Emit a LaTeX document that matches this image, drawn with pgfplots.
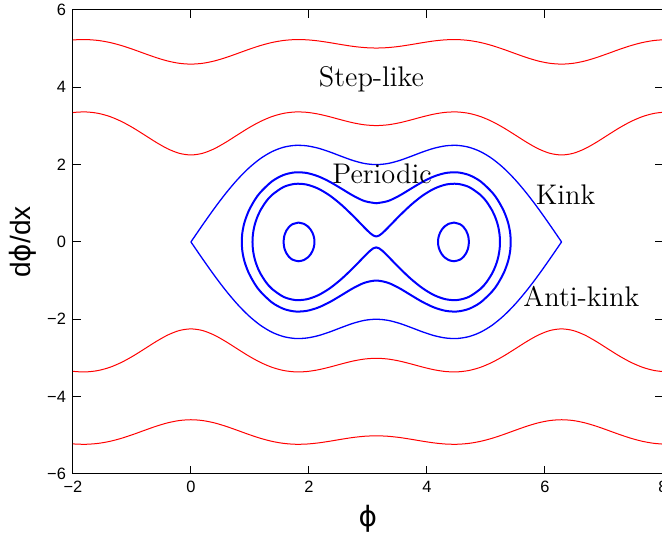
\documentclass[border=0pt]{standalone}
\usepackage{fontspec}
\newfontfamily\arialfont{Liberation Sans}
\newfontfamily\dejavufont{DejaVu Sans}
\usepackage{pgfplots}
\usepackage{pgfplotstable}
\pgfplotsset{compat=1.18}

\pgfplotstableread{
x r1 r1n r2 r2n
-2.1598 3.3074 -3.3074 5.1997 -5.1997
-1.9635 3.3529 -3.3529 5.2287 -5.2287
-1.7671 3.3616 -3.3616 5.2343 -5.2343
-1.5708 3.3260 -3.3260 5.2115 -5.2115
-1.3744 3.2435 -3.2435 5.1592 -5.1592
-1.1781 3.1163 -3.1163 5.0802 -5.0802
-0.9817 2.9524 -2.9524 4.9814 -4.9814
-0.7854 2.7656 -2.7656 4.8730 -4.8730
-0.5890 2.5757 -2.5757 4.7678 -4.7678
-0.3927 2.4084 -2.4084 4.6795 -4.6795
-0.1963 2.2920 -2.2920 4.6207 -4.6207
0.0000 2.2500 -2.2500 4.6000 -4.6000
0.1963 2.2920 -2.2920 4.6207 -4.6207
0.3927 2.4084 -2.4084 4.6795 -4.6795
0.5890 2.5757 -2.5757 4.7678 -4.7678
0.7854 2.7656 -2.7656 4.8730 -4.8730
0.9817 2.9524 -2.9524 4.9814 -4.9814
1.1781 3.1163 -3.1163 5.0802 -5.0802
1.3744 3.2435 -3.2435 5.1592 -5.1592
1.5708 3.3260 -3.3260 5.2115 -5.2115
1.7671 3.3616 -3.3616 5.2343 -5.2343
1.9635 3.3529 -3.3529 5.2287 -5.2287
2.1598 3.3074 -3.3074 5.1997 -5.1997
2.3562 3.2368 -3.2368 5.1550 -5.1550
2.5525 3.1560 -3.1560 5.1047 -5.1047
2.7489 3.0816 -3.0816 5.0590 -5.0590
2.9452 3.0292 -3.0292 5.0273 -5.0273
3.1416 3.0104 -3.0104 5.0160 -5.0160
3.3379 3.0292 -3.0292 5.0273 -5.0273
3.5343 3.0816 -3.0816 5.0590 -5.0590
3.7306 3.1560 -3.1560 5.1047 -5.1047
3.9270 3.2368 -3.2368 5.1550 -5.1550
4.1233 3.3074 -3.3074 5.1997 -5.1997
4.3197 3.3529 -3.3529 5.2287 -5.2287
4.5160 3.3616 -3.3616 5.2343 -5.2343
4.7124 3.3260 -3.3260 5.2115 -5.2115
4.9087 3.2435 -3.2435 5.1592 -5.1592
5.1051 3.1163 -3.1163 5.0802 -5.0802
5.3014 2.9524 -2.9524 4.9814 -4.9814
5.4978 2.7656 -2.7656 4.8730 -4.8730
5.6941 2.5757 -2.5757 4.7678 -4.7678
5.8905 2.4084 -2.4084 4.6795 -4.6795
6.0868 2.2920 -2.2920 4.6207 -4.6207
6.2832 2.2500 -2.2500 4.6000 -4.6000
6.4795 2.2920 -2.2920 4.6207 -4.6207
6.6759 2.4084 -2.4084 4.6795 -4.6795
6.8722 2.5757 -2.5757 4.7678 -4.7678
7.0686 2.7656 -2.7656 4.8730 -4.8730
7.2649 2.9524 -2.9524 4.9814 -4.9814
7.4613 3.1163 -3.1163 5.0802 -5.0802
7.6576 3.2435 -3.2435 5.1592 -5.1592
7.8540 3.3260 -3.3260 5.2115 -5.2115
8.0503 3.3616 -3.3616 5.2343 -5.2343
}\stepdata

\pgfplotstableread{
x s sn
0.0000 0.00000 0.00000
0.1963 0.43665 -0.43665
0.3927 0.85909 -0.85909
0.5890 1.25367 -1.25367
0.7854 1.60804 -1.60804
0.9817 1.91161 -1.91161
1.1781 2.15612 -2.15612
1.3744 2.33615 -2.33615
1.5708 2.44949 -2.44949
1.7671 2.49759 -2.49759
1.9635 2.48588 -2.48588
2.1598 2.42415 -2.42415
2.3562 2.32685 -2.32685
2.5525 2.21304 -2.21304
2.7489 2.10560 -2.10560
2.9452 2.02826 -2.02826
3.1416 2.00000 -2.00000
3.3379 2.02826 -2.02826
3.5343 2.10560 -2.10560
3.7306 2.21304 -2.21304
3.9270 2.32685 -2.32685
4.1233 2.42415 -2.42415
4.3197 2.48588 -2.48588
4.5160 2.49759 -2.49759
4.7124 2.44949 -2.44949
4.9087 2.33615 -2.33615
5.1051 2.15612 -2.15612
5.3014 1.91161 -1.91161
5.4978 1.60804 -1.60804
5.6941 1.25367 -1.25367
5.8905 0.85909 -0.85909
6.0868 0.43665 -0.43665
6.2832 0.00000 0.00000
}\kinkdata

\begin{document}
\begin{tikzpicture}
\begin{axis}[
  scale only axis,
  width=295pt, height=232pt,
  xmin=-2, xmax=8, ymin=-6, ymax=6,
  xtick={-2,0,2,4,6,8}, ytick={-6,-4,-2,0,2,4,6},
  xticklabels={−2,0,2,4,6,8},
  yticklabels={−6,−4,−2,0,2,4,6},
  tick align=inside,
  major tick length=4pt,
  tick style={black, line width=0.5pt},
  axis line style={line width=0.5pt},
  ticklabel style={font=\arialfont\fontsize{8.2}{10}\selectfont},
  xlabel={\dejavufont ϕ}, ylabel={\arialfont d{\dejavufont ϕ}/dx},
  label style={font=\arialfont\fontsize{14}{16}\selectfont},
  xlabel style={at={(axis description cs:0.5,0)}, anchor=center, yshift=-22.5pt},
  ylabel style={at={(axis description cs:-0.085,0.5)}, anchor=center},
]
% step-like (red)
\addplot[red, line width=0.5pt, smooth] table[x=x, y=r1] {\stepdata};
\addplot[red, line width=0.5pt, smooth] table[x=x, y=r1n] {\stepdata};
\addplot[red, line width=0.5pt, smooth] table[x=x, y=r2] {\stepdata};
\addplot[red, line width=0.5pt, smooth] table[x=x, y=r2n] {\stepdata};
% kink / anti-kink separatrix
\addplot[blue, line width=0.65pt, smooth] table[x=x, y=s] {\kinkdata};
\addplot[blue, line width=0.65pt, smooth] table[x=x, y=sn] {\kinkdata};
% periodic orbit (outer)
\addplot[blue, line width=1pt, smooth] coordinates {
(3.1416,1) (3.3379,1.05538) (3.5343,1.19731) (3.7306,1.37752) (3.9270,1.55377) (4.1233,1.69603) (4.3197,1.78314) (4.5160,1.79943) (4.7124,1.73205) (4.9087,1.56767) (5.1051,1.28407) (5.2032,1.08109) (5.3014,0.80884) (5.3632,0.56593) (5.3932,0.39565) (5.4132,0.2170) (5.4218,0)
(5.4132,-0.2170) (5.3932,-0.39565) (5.3632,-0.56593) (5.3014,-0.80884) (5.2032,-1.08109) (5.1051,-1.28407) (4.9087,-1.56767) (4.7124,-1.73205) (4.5160,-1.79943) (4.3197,-1.78314) (4.1233,-1.69603) (3.9270,-1.55377) (3.7306,-1.37752) (3.5343,-1.19731) (3.3379,-1.05538) (3.1416,-1) (2.9452,-1.05538) (2.7489,-1.19731) (2.5525,-1.37752) (2.3562,-1.55377) (2.1598,-1.69603) (1.9635,-1.78314) (1.7671,-1.79943) (1.5708,-1.73205) (1.3744,-1.56767) (1.1781,-1.28407) (1.0800,-1.08109) (0.9817,-0.80884) (0.9200,-0.56593) (0.8900,-0.39565) (0.8700,-0.2170) (0.8614,0)
(0.8700,0.2170) (0.8900,0.39565) (0.9200,0.56593) (0.9817,0.80884) (1.0800,1.08109) (1.1781,1.28407) (1.3744,1.56767) (1.5708,1.73205) (1.7671,1.79943) (1.9635,1.78314) (2.1598,1.69603) (2.3562,1.55377) (2.5525,1.37752) (2.7489,1.19731) (2.9452,1.05538) (3.1416,1)
};
% periodic orbit (near figure-eight)
\addplot[blue, line width=1pt, smooth] coordinates {
(3.1416,0.14142) (3.1916,0.16583) (3.2416,0.22333) (3.2916,0.29474) (3.3379,0.36581) (3.5343,0.67346) (3.7306,0.95790) (3.9270,1.19759) (4.1233,1.37714) (4.3197,1.48310) (4.5160,1.50264) (4.7124,1.42127) (4.9087,1.21556) (5.0132,1.03745) (5.1051,0.81783) (5.1432,0.69805) (5.1832,0.53834) (5.2132,0.37104) (5.2332,0.18588) (5.2398,0)
(5.2332,-0.18588) (5.2132,-0.37104) (5.1832,-0.53834) (5.1432,-0.69805) (5.1051,-0.81783) (5.0132,-1.03745) (4.9087,-1.21556) (4.7124,-1.42127) (4.5160,-1.50264) (4.3197,-1.48310) (4.1233,-1.37714) (3.9270,-1.19759) (3.7306,-0.95790) (3.5343,-0.67346) (3.3379,-0.36581) (3.2916,-0.29474) (3.2416,-0.22333) (3.1916,-0.16583) (3.1416,-0.14142) (3.0916,-0.16583) (3.0416,-0.22333) (2.9916,-0.29474) (2.9452,-0.36581) (2.7489,-0.67346) (2.5525,-0.95790) (2.3562,-1.19759) (2.1598,-1.37714) (1.9635,-1.48310) (1.7671,-1.50264) (1.5708,-1.42127) (1.3744,-1.21556) (1.2700,-1.03745) (1.1781,-0.81783) (1.1400,-0.69805) (1.1000,-0.53834) (1.0700,-0.37104) (1.0500,-0.18588) (1.0434,0)
(1.0500,0.18588) (1.0700,0.37104) (1.1000,0.53834) (1.1400,0.69805) (1.1781,0.81783) (1.2700,1.03745) (1.3744,1.21556) (1.5708,1.42127) (1.7671,1.50264) (1.9635,1.48310) (2.1598,1.37714) (2.3562,1.19759) (2.5525,0.95790) (2.7489,0.67346) (2.9452,0.36581) (2.9916,0.29474) (3.0416,0.22333) (3.0916,0.16583) (3.1416,0.14142)
};
% small periodic orbits
\addplot[blue, line width=1pt, smooth] coordinates {
(1.8235,0.5) (1.92,0.46480) (1.98,0.40315) (2.03,0.31725) (2.06,0.23778) (2.08,0.15625) (2.09,0.0870) (2.0944,0) (2.09,-0.0870) (2.08,-0.15625) (2.06,-0.23778) (2.03,-0.31725) (1.98,-0.40315) (1.92,-0.46480) (1.8235,-0.5) (1.72,-0.45707) (1.66,-0.38265) (1.62,-0.29780) (1.59,-0.19216) (1.58,-0.13439) (1.5708,0) (1.58,0.13439) (1.59,0.19216) (1.62,0.29780) (1.66,0.38265) (1.72,0.45707) (1.8235,0.5)
};
\addplot[blue, line width=1pt, smooth] coordinates {
(4.4597,0.5) (4.3632,0.46480) (4.3032,0.40315) (4.2532,0.31725) (4.2232,0.23778) (4.2032,0.15625) (4.1932,0.0870) (4.1888,0) (4.1932,-0.0870) (4.2032,-0.15625) (4.2232,-0.23778) (4.2532,-0.31725) (4.3032,-0.40315) (4.3632,-0.46480) (4.4597,-0.5) (4.5632,-0.45707) (4.6232,-0.38265) (4.6632,-0.29780) (4.6932,-0.19216) (4.7032,-0.13439) (4.7124,0) (4.7032,0.13439) (4.6932,0.19216) (4.6632,0.29780) (4.6232,0.38265) (4.5632,0.45707) (4.4597,0.5)
};
\node[font=\fontsize{14.2}{17}\selectfont, inner sep=0pt] at (axis cs:3.06,4.22) {Step-like};
\node[font=\fontsize{14.2}{17}\selectfont, inner sep=0pt] at (axis cs:3.24,1.76) {Periodic};
\node[font=\fontsize{14.2}{17}\selectfont, inner sep=0pt] at (axis cs:6.35,1.22) {Kink};
\node[font=\fontsize{14.2}{17}\selectfont, inner sep=0pt] at (axis cs:6.62,-1.40) {Anti-kink};
\end{axis}
\pgfresetboundingbox
\useasboundingbox (-36.5pt,-29.5pt) rectangle (294.6pt,237pt);
\end{tikzpicture}
\end{document}
